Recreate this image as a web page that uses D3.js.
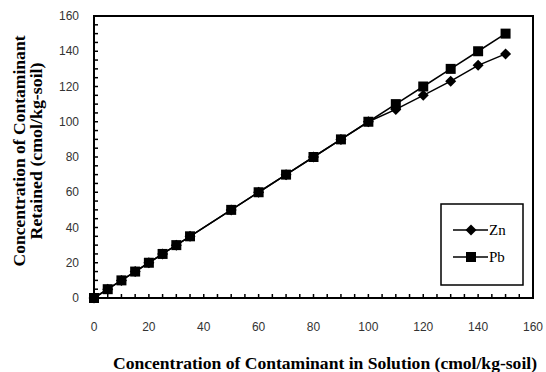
<!DOCTYPE html>
<html>
<head>
<meta charset="utf-8">
<script src="https://cdn.jsdelivr.net/npm/d3@7"></script>
<style>
  body { margin: 0; background: #fff; }
</style>
</head>
<body>
<svg id="chart" width="546" height="372"></svg>
<script>
// solution concentration (cmol/kg-soil)
const conc = [0, 5, 10, 15, 20, 25, 30, 35, 50, 60, 70, 80, 90, 100, 110, 120, 130, 140, 150];
// retained concentration
const zn = [0, 5, 10, 15, 20, 25, 30, 35, 50, 60, 70, 80, 90, 100, 107, 115, 123, 132, 138.5];
const pb = [0, 5, 10, 15, 20, 25, 30, 35, 50, 60, 70, 80, 90, 100, 110, 120, 130, 140, 150];
const seriesNames = ["Zn", "Pb"];
const axisTicks = [0, 20, 40, 60, 80, 100, 120, 140, 160];

const SERIF = "'Liberation Serif', 'Times New Roman', 'DejaVu Serif', serif";
const SANS = "'Liberation Sans', Arial, sans-serif";

const svg = d3.select("#chart");
const margin = {top: 16, right: 13, bottom: 74, left: 94};
const W = 546, H = 372;

let x = d3.scaleLinear().domain([0, 160]).range([margin.left, W - margin.right]);
let y = d3.scaleLinear().domain([0, 160]).range([H - margin.bottom, margin.top]);

// minor ticks every 5, pointing inward
let minor = d3.range(0, 161, 5);
svg.append("g")
    .selectAll("line")
    .data(minor)
    .enter().append("line")
    .attr("x1", d => x(d)).attr("x2", d => x(d))
    .attr("y1", y(0)).attr("y2", y(0) - 4)
    .attr("stroke", "#000").attr("stroke-width", 1.5);
svg.append("g")
    .selectAll("line")
    .data(minor)
    .enter().append("line")
    .attr("y1", d => y(d)).attr("y2", d => y(d))
    .attr("x1", x(0)).attr("x2", x(0) + 4)
    .attr("stroke", "#000").attr("stroke-width", 1.5);

// plot frame
svg.append("rect")
    .attr("x", x(0)).attr("y", y(160))
    .attr("width", x(160) - x(0)).attr("height", y(0) - y(160))
    .attr("fill", "none").attr("stroke", "#000").attr("stroke-width", 2);

// tick labels
svg.append("g").selectAll("text")
    .data(axisTicks)
    .enter().append("text")
    .attr("font-family", SANS).attr("font-size", 12).attr("fill", "#333")
    .attr("x", d => x(d)).attr("y", y(0) + 33)
    .attr("text-anchor", "middle")
    .text(d => d);
svg.append("g").selectAll("text")
    .data(axisTicks)
    .enter().append("text")
    .attr("font-family", SANS).attr("font-size", 12).attr("fill", "#333")
    .attr("x", x(0) - 15).attr("y", d => y(d) + 4)
    .attr("text-anchor", "end")
    .text(d => d);

// axis titles
svg.append("text")
    .attr("font-family", SERIF).attr("font-weight", "bold").attr("font-size", 16)
    .attr("x", 325).attr("y", 369)
    .attr("text-anchor", "middle")
    .attr("textLength", 424).attr("lengthAdjust", "spacingAndGlyphs")
    .text("Concentration of Contaminant in Solution (cmol/kg-soil)");

let yt = svg.append("text")
    .attr("font-family", SERIF).attr("font-weight", "bold").attr("font-size", 16)
    .attr("text-anchor", "middle")
    .attr("transform", "translate(25,151) rotate(-90)");
yt.append("tspan").attr("x", 0).attr("y", 0)
    .attr("textLength", 231).attr("lengthAdjust", "spacingAndGlyphs")
    .text("Concentration of Contaminant");
yt.append("tspan").attr("x", 0).attr("y", 17)
    .attr("textLength", 177).attr("lengthAdjust", "spacingAndGlyphs")
    .text("Retained (cmol/kg-soil)");

// lines
let line = d3.line().x(d => x(d[0])).y(d => y(d[1]));
let series = [zn, pb].map(vals => conc.map((c, i) => [c, vals[i]]));

series.forEach(function(pts) {
    svg.append("path")
        .datum(pts)
        .attr("d", line)
        .attr("fill", "none")
        .attr("stroke", "#000")
        .attr("stroke-width", 1.5);
});

let diamond = "M0,-5.5L5.5,0L0,5.5L-5.5,0Z";
let square = d3.symbol().type(d3.symbolSquare).size(100);
let shapes = [diamond, square];

series.forEach(function(pts, k) {
    svg.append("g").selectAll("path")
        .data(pts)
        .enter().append("path")
        .attr("d", shapes[k])
        .attr("transform", d => "translate(" + x(d[0]) + "," + y(d[1]) + ")")
        .attr("fill", "#000");
});

// legend
let lg = svg.append("g");
lg.append("rect")
    .attr("x", 441).attr("y", 204)
    .attr("width", 82).attr("height", 81)
    .attr("fill", "#fff").attr("stroke", "#000").attr("stroke-width", 1.5);
seriesNames.forEach(function(name, k) {
    let ly = 230 + k * 27;
    lg.append("line")
        .attr("x1", 453).attr("x2", 488)
        .attr("y1", ly).attr("y2", ly)
        .attr("stroke", "#000").attr("stroke-width", 1.5);
    lg.append("path")
        .attr("d", shapes[k])
        .attr("transform", "translate(471," + ly + ")")
        .attr("fill", "#000");
    lg.append("text")
        .attr("font-family", SERIF).attr("font-size", 15)
        .attr("x", 489).attr("y", ly + 5)
        .text(name);
});
</script>
</body>
</html>
